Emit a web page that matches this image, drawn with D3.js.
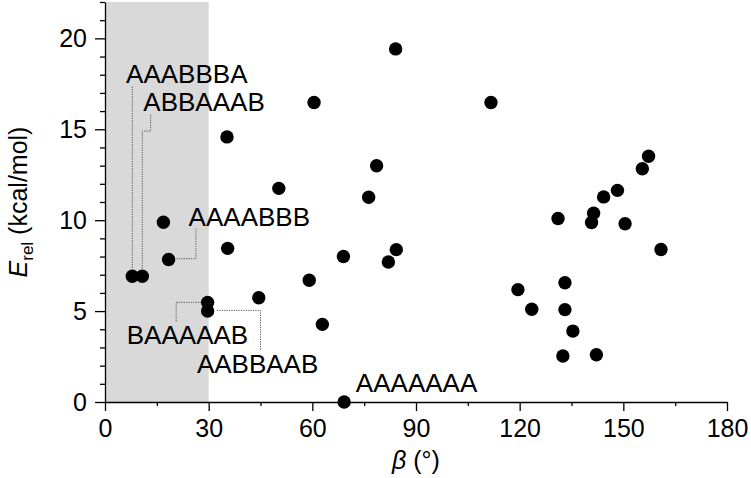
<!DOCTYPE html>
<html>
<head>
<meta charset="utf-8">
<script src="https://cdn.jsdelivr.net/npm/d3@7"></script>
<style>
    body { margin: 0; background: #fff; }
    svg text { font-family: "Liberation Sans", Arial, Helvetica, sans-serif; fill: #000; }
    .axis path, .axis line { stroke: #000; stroke-width: 1.3; }
    .leader { fill: none; stroke: #555; stroke-width: 1; stroke-dasharray: 1.2,1.2; }
</style>
</head>
<body>
<div id="chart"></div>
<script>
// conformer data: beta (deg) and relative energy (kcal/mol)
var betaValues = [7.9, 10.8, 18.4, 16.9, 35.3, 35.5, 29.7, 29.7, 44.5, 50.3,
    59.1, 60.5, 62.9, 69.0, 69.2, 76.3, 78.6, 82.0, 84.3, 84.1,
    111.7, 119.5, 123.5, 131.1, 132.5, 133.1, 133.1, 135.4, 140.8, 141.4,
    142.2, 144.3, 148.3, 150.5, 155.5, 157.3, 160.9];
var energyValues = [6.92, 6.92, 7.84, 9.89, 14.58, 8.45, 5.48, 5.0, 5.73, 11.75,
    6.70, 16.47, 4.27, 8.0, 0, 11.26, 12.99, 7.70, 8.38, 19.42,
    16.47, 6.18, 5.10, 10.09, 2.53, 6.56, 5.08, 3.90, 9.87, 10.38,
    2.60, 11.28, 11.64, 9.80, 12.83, 13.52, 8.39];
var xTickValues = [0, 30, 60, 90, 120, 150, 180];
var yTickValues = [0, 5, 10, 15, 20];
var shadedRange = [0, 30];

// labelled conformers
var labelNames = ["AAABBBA", "ABBAAAB", "AAAABBB", "BAAAAAB", "AABBAAB", "AAAAAAA"];
// text anchor (beta, E) of each label, and its dotted leader in data units
var labelAnchors = [[6.1, 17.57], [11.1, 15.98], [24.2, 9.70], [6.3, 3.2], [26.6, 1.57], [72.6, 0.56]];
var labelLeaders = [
    [[7.9, 17.35], [7.9, 7.3]],
    [[13.2, 15.8], [13.2, 14.9], [10.8, 14.9], [10.8, 7.3]],
    [[26.3, 9.52], [26.3, 7.88], [20.4, 7.88]],
    [[20.6, 4.44], [20.6, 5.48], [27.9, 5.48]],
    [[32.4, 5.04], [45.0, 5.04], [45.0, 2.88]],
    []
];

var margin = {top: 2, right: 24, bottom: 76, left: 105};
var width = 751 - margin.left - margin.right,
    height = 478 - margin.top - margin.bottom;

var svg = d3.select("#chart").append("svg")
    .attr("width", 751)
    .attr("height", 478)
    .append("g")
    .attr("transform", "translate(" + margin.left + "," + margin.top + ")");

var x = d3.scaleLinear().domain([0, 180]).range([0, width]);
var y = d3.scaleLinear().domain([0, 22]).range([height, 0]);

// shaded region
svg.append("rect")
    .attr("x", x(shadedRange[0]))
    .attr("y", y(22))
    .attr("width", x(shadedRange[1]) - x(shadedRange[0]))
    .attr("height", y(0) - y(22))
    .attr("fill", "#d9d9d9");

// minor ticks
var xMinor = d3.range(15, 180, 30);
var yMinor = d3.range(0, 23).filter(function(d) { return d % 5 != 0; });

svg.append("g")
    .attr("class", "axis")
    .attr("transform", "translate(0," + height + ")")
    .call(d3.axisBottom(x).tickValues(xMinor).tickSize(4).tickFormat(""))
    .select(".domain").remove();
svg.append("g")
    .attr("class", "axis")
    .call(d3.axisLeft(y).tickValues(yMinor).tickSize(5).tickFormat(""))
    .select(".domain").remove();

var xAxis = svg.append("g")
    .attr("class", "axis")
    .attr("transform", "translate(0," + height + ")")
    .call(d3.axisBottom(x).tickValues(xTickValues).tickSize(9).tickPadding(8).tickSizeOuter(0));
xAxis.selectAll("text").style("font-size", "25px");

var yAxis = svg.append("g")
    .attr("class", "axis")
    .call(d3.axisLeft(y).tickValues(yTickValues).tickSize(10).tickPadding(8).tickSizeOuter(0));
yAxis.selectAll("text").style("font-size", "25px");

// axis titles
var xTitle = svg.append("text")
    .attr("x", width / 2)
    .attr("y", height + 67)
    .style("text-anchor", "middle")
    .style("font-size", "25px");
xTitle.append("tspan").style("font-style", "italic").text("\u03b2");
xTitle.append("tspan").text(" (\u00b0)");

var yTitle = svg.append("text")
    .attr("transform", "translate(-78," + (height / 2) + ") rotate(-90)")
    .style("text-anchor", "middle")
    .style("font-size", "25px");
yTitle.append("tspan").style("font-style", "italic").text("E");
yTitle.append("tspan").attr("dy", 6).style("font-size", "17px").text("rel");
yTitle.append("tspan").attr("dy", -6).text(" (kcal/mol)");

// leaders
var line = d3.line()
    .x(function(d) { return x(d[0]); })
    .y(function(d) { return y(d[1]); });
svg.selectAll(".leader")
    .data(labelLeaders.filter(function(d) { return d.length > 0; }))
    .enter().append("path")
    .attr("class", "leader")
    .attr("d", line);

// points
svg.selectAll(".dot")
    .data(betaValues)
    .enter().append("circle")
    .attr("class", "dot")
    .attr("cx", function(d) { return x(d); })
    .attr("cy", function(d, i) { return y(energyValues[i]); })
    .attr("r", 6.7)
    .attr("fill", "#000");

// labels
svg.selectAll(".conf-label")
    .data(labelNames)
    .enter().append("text")
    .attr("class", "conf-label")
    .attr("x", function(d, i) { return x(labelAnchors[i][0]); })
    .attr("y", function(d, i) { return y(labelAnchors[i][1]); })
    .style("font-size", "26px")
    .text(function(d) { return d; });
</script>
</body>
</html>
